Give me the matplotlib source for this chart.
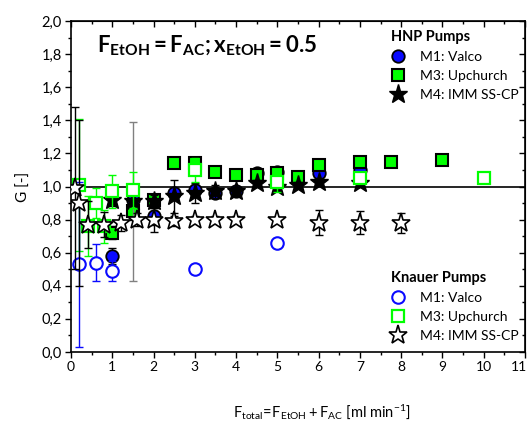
import matplotlib
matplotlib.use("Agg")
import matplotlib.pyplot as plt
from matplotlib.lines import Line2D
from matplotlib.ticker import MultipleLocator, FuncFormatter

plt.rcParams['font.family'] = ['Lato', 'DejaVu Sans']
plt.rcParams['mathtext.fontset'] = 'custom'
plt.rcParams['mathtext.rm'] = 'Lato'
plt.rcParams['mathtext.it'] = 'Lato:italic'
plt.rcParams['mathtext.bf'] = 'Lato:bold'

BLUE = '#0a0aff'
GREEN = '#00ff00'

# HNP pumps
hnp_m1_x = [1.0, 1.5, 2.0, 2.5, 3.0, 3.5, 4.0, 4.5, 5.0, 6.0, 7.0]
hnp_m1_g = [0.58, 0.92, 0.82, 0.96, 0.98, 0.96, 0.97, 1.08, 1.09, 1.08, 1.10]
hnp_m1_err = [0.05, 0.03, 0.05, 0.03, 0.03, 0.03, 0.03, 0.02, 0.02, 0.02, 0.02]

hnp_m3_x = [1.0, 1.5, 2.0, 2.5, 3.0, 3.5, 4.0, 4.5, 5.0, 5.5, 6.0, 7.0, 7.75, 9.0]
hnp_m3_g = [0.72, 0.85, 0.92, 1.14, 1.14, 1.09, 1.07, 1.07, 1.08, 1.06, 1.13, 1.15, 1.15, 1.16]
hnp_m3_err = [0.04, 0.05, 0.03, 0.02, 0.02, 0.03, 0.02, 0.02, 0.02, 0.02, 0.02, 0.0, 0.0, 0.0]

hnp_m4_x = [1.0, 1.5, 2.0, 2.5, 3.0, 3.5, 4.0, 4.5, 5.0, 5.5, 6.0, 7.0]
hnp_m4_g = [0.92, 0.91, 0.91, 0.94, 0.96, 0.97, 0.97, 1.02, 1.00, 1.01, 1.03, 1.02]
hnp_m4_err = [0.04, 0.0, 0.04, 0.10, 0.06, 0.04, 0.03, 0.02, 0.02, 0.02, 0.02, 0.02]
# one very scattered point at 1.5 ml/min, drawn in grey
hnp_m4_wide_x = [1.5]
hnp_m4_wide_g = [0.91]
hnp_m4_wide_err = [0.48]

# Knauer pumps
kn_m1_x = [0.2, 0.6, 1.0, 3.0, 5.0]
kn_m1_g = [0.53, 0.54, 0.49, 0.50, 0.66]
kn_m1_err = [0.50, 0.11, 0.06, 0.02, 0.0]

kn_m3_x = [0.2, 0.4, 0.6, 0.8, 1.0, 1.5, 3.0, 5.0, 7.0, 10.0]
kn_m3_g = [1.01, 0.76, 0.90, 0.76, 0.97, 0.98, 1.10, 1.03, 1.05, 1.05]
kn_m3_err = [0.40, 0.18, 0.09, 0.10, 0.10, 0.11, 0.07, 0.065, 0.0, 0.0]

kn_m4_x = [0.1, 0.2, 0.4, 0.8, 1.2, 1.6, 2.0, 2.5, 3.0, 3.5, 4.0, 5.0, 6.0, 7.0, 8.0]
kn_m4_g = [0.99, 0.90, 0.77, 0.77, 0.78, 0.80, 0.80, 0.79, 0.80, 0.80, 0.80, 0.80, 0.78, 0.78, 0.78]
kn_m4_err = [0.49, 0.50, 0.14, 0.075, 0.05, 0.04, 0.075, 0.03, 0.02, 0.02, 0.02, 0.0, 0.075, 0.07, 0.06]

x_ticks = list(range(0, 12))

styles = {
    'hnp_m1': dict(marker='o', ms=9, mfc=BLUE, mec='k', mew=1.3),
    'hnp_m3': dict(marker='s', ms=8, mfc=GREEN, mec='k', mew=1.5),
    'hnp_m4': dict(marker='*', ms=14, mfc='k', mec='k', mew=1.0),
    'kn_m1': dict(marker='o', ms=9, mfc='white', mec=BLUE, mew=1.5),
    'kn_m3': dict(marker='s', ms=8, mfc='white', mec=GREEN, mew=1.6),
    'kn_m4': dict(marker='*', ms=14, mfc='white', mec='k', mew=1.2),
}

fig = plt.figure(figsize=(5.31, 4.21), dpi=100)
ax = fig.add_axes([0.1337, 0.164, 0.855, 0.786])

ax.axhline(1.0, color='k', lw=1.2, zorder=1)

def series(x, g, err, key, ecolor, z):
    ax.errorbar(x, g, yerr=err, fmt='none', ecolor=ecolor, elinewidth=1.0,
                capsize=3, capthick=1.0, zorder=z)
    ax.plot(x, g, ls='none', zorder=z + 0.5, **styles[key])

series(hnp_m1_x, hnp_m1_g, hnp_m1_err, 'hnp_m1', 'k', 2)
series(hnp_m3_x, hnp_m3_g, hnp_m3_err, 'hnp_m3', 'k', 3)
ax.errorbar(hnp_m4_wide_x, hnp_m4_wide_g, yerr=hnp_m4_wide_err, fmt='none',
            ecolor='#808080', elinewidth=1.0, capsize=3, capthick=1.0, zorder=4)
series(hnp_m4_x, hnp_m4_g, hnp_m4_err, 'hnp_m4', 'k', 4)
series(kn_m3_x, kn_m3_g, kn_m3_err, 'kn_m3', GREEN, 5)
series(kn_m1_x, kn_m1_g, kn_m1_err, 'kn_m1', BLUE, 6)
series(kn_m4_x, kn_m4_g, kn_m4_err, 'kn_m4', 'k', 7)

ax.set_xlim(0, 11)
ax.set_ylim(0, 2.0)
# the last label (11) sits on the figure edge, so it is placed separately below
ax.set_xticks(x_ticks, [str(t) for t in x_ticks[:-1]] + [''])
ax.xaxis.set_minor_locator(MultipleLocator(0.5))
ax.yaxis.set_major_locator(MultipleLocator(0.2))
ax.yaxis.set_minor_locator(MultipleLocator(0.1))
ax.yaxis.set_major_formatter(FuncFormatter(lambda v, p: ('%.1f' % v).replace('.', ',')))
ax.tick_params(which='major', direction='out', length=4.5, width=1.0, labelsize=10.5, pad=2)
ax.tick_params(axis='x', which='major', labelsize=10)
ax.tick_params(which='minor', direction='out', length=2.5, width=1.0)
for s in ax.spines.values():
    s.set_linewidth(1.2)
ax.annotate(str(x_ticks[-1]), xy=(x_ticks[-1], 0), xycoords=('data', 'axes fraction'),
            xytext=(-4, -6.5), textcoords='offset points', ha='center', va='top',
            fontsize=10, annotation_clip=False)

# inward ticks on top and right
top = ax.secondary_xaxis('top')
top.xaxis.set_major_locator(MultipleLocator(1))
top.xaxis.set_minor_locator(MultipleLocator(0.5))
top.tick_params(which='major', direction='in', length=4, width=1.0, labeltop=False)
top.tick_params(which='minor', direction='in', length=2.5, width=1.0)
right = ax.secondary_yaxis('right')
right.yaxis.set_major_locator(MultipleLocator(0.2))
right.yaxis.set_minor_locator(MultipleLocator(0.1))
right.tick_params(which='major', direction='in', length=4, width=1.0, labelright=False)
right.tick_params(which='minor', direction='in', length=2.5, width=1.0)

ax.set_ylabel('G [-]', fontsize=11, labelpad=8)
ax.set_xlabel(r'$\mathregular{F_{total}\!=\!F_{EtOH} + F_{AC}\ [ml\ min^{-1}]}$',
              fontsize=10.5)
ax.xaxis.set_label_coords(0.553, -0.155)

fig.text(0.183, 0.876, r'$\mathbf{F_{EtOH} = F_{AC}; x_{EtOH} = 0.5}$',
         fontsize=16, va='baseline', ha='left')

def handle(key):
    return Line2D([], [], ls='none', **styles[key])

labels = ['M1: Valco', 'M3: Upchurch', 'M4: IMM SS-CP']
leg_opts = dict(frameon=False, fontsize=10, handlelength=1.0, handletextpad=1.1,
                labelspacing=0.5, borderpad=0, borderaxespad=0, loc='upper left',
                alignment='left', title_fontproperties={'weight': 'bold', 'size': 10.5})
leg1 = ax.legend([handle('hnp_m1'), handle('hnp_m3'), handle('hnp_m4')], labels,
                 title='HNP Pumps', bbox_to_anchor=(0.705, 0.972), **leg_opts)
ax.add_artist(leg1)
ax.legend([handle('kn_m1'), handle('kn_m3'), handle('kn_m4')], labels,
          title='Knauer Pumps', bbox_to_anchor=(0.705, 0.245), **leg_opts)

fig.savefig('out.png', dpi=100)
